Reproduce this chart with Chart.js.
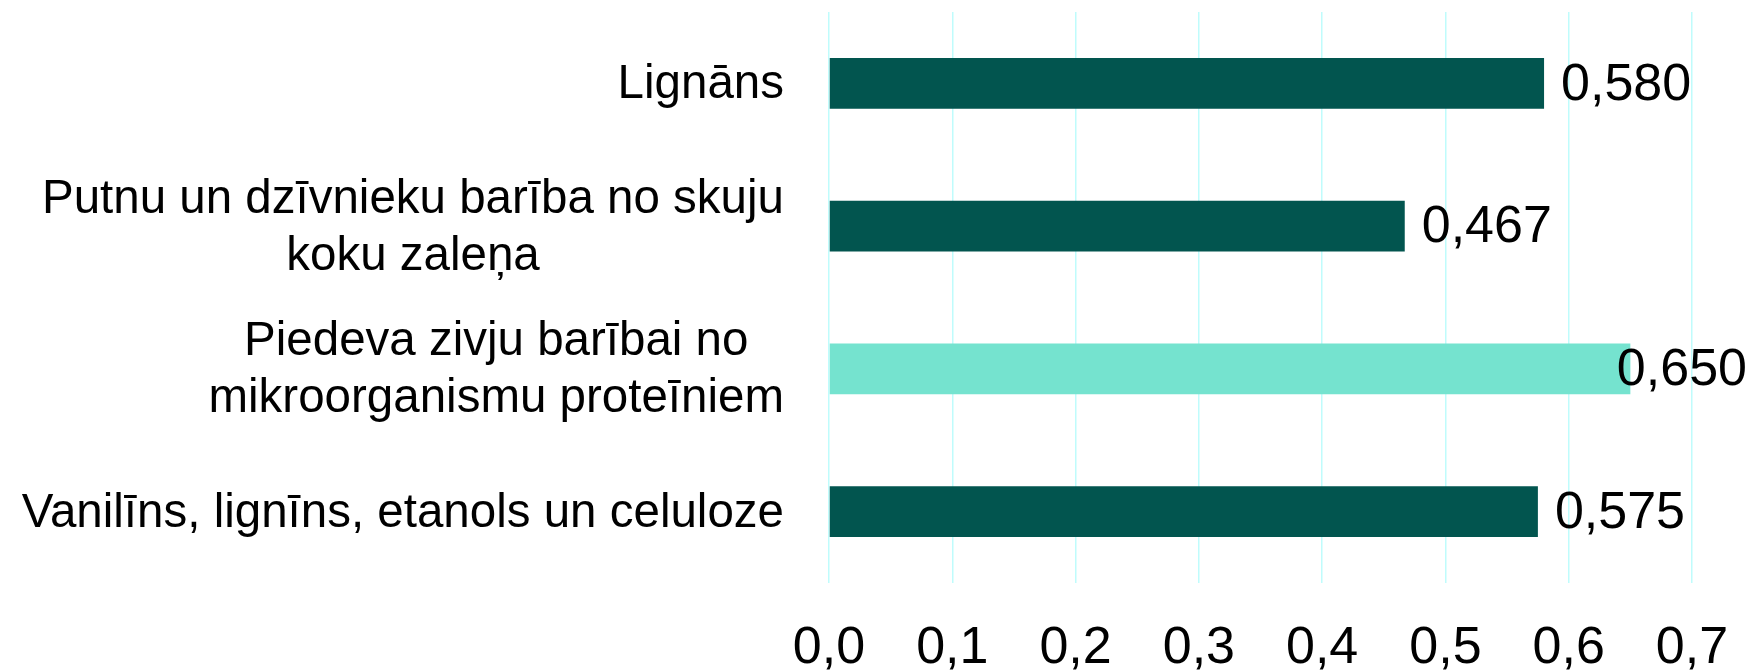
<!DOCTYPE html>
<html>
<head>
<meta charset="utf-8">
<script src="https://cdn.jsdelivr.net/npm/chart.js@4/dist/chart.umd.min.js"></script>
<style>
  html, body { margin: 0; padding: 0; background: #ffffff; }
  #wrap { width: 1754px; height: 671px; position: relative; }
</style>
</head>
<body>
<div id="wrap"><canvas id="c"></canvas></div>
<script>
// Data
const categories = [
  ["Lignāns"],
  ["Putnu un dzīvnieku barība no skuju", "koku zaleņa"],
  ["Piedeva zivju barībai no", "mikroorganismu proteīniem"],
  ["Vanilīns, lignīns, etanols un celuloze"]
];
const values = [0.580, 0.467, 0.650, 0.575];
const valueLabels = ["0,580", "0,467", "0,650", "0,575"];
const barColors = ["#02554F", "#02554F", "#75E3CF", "#02554F"];
const xMin = 0, xMax = 0.7, xStep = 0.1;

const FONT = "'Liberation Sans', Arial, Helvetica, sans-serif";
const LABEL_SIZE = 47.5;
const VALUE_SIZE = 52;

const categoryLabelsPlugin = {
  id: 'categoryLabels',
  afterDraw(chart) {
    const ctx = chart.ctx;
    const yScale = chart.scales.y;
    const rightEdge = chart.chartArea.left - 45;
    const lh = LABEL_SIZE * 1.2;
    ctx.save();
    ctx.font = LABEL_SIZE + "px " + FONT;
    ctx.fillStyle = "#000000";
    ctx.textAlign = "center";
    ctx.textBaseline = "middle";
    categories.forEach((lines, i) => {
      const yc = yScale.getPixelForValue(i) + 2;
      let maxW = 0;
      lines.forEach(l => { maxW = Math.max(maxW, ctx.measureText(l).width); });
      const cx = rightEdge - maxW / 2;
      lines.forEach((l, j) => {
        ctx.fillText(l, cx, yc + (j - (lines.length - 1) / 2) * lh);
      });
    });
    ctx.restore();
  }
};

const valueLabelsPlugin = {
  id: 'valueLabels',
  afterDatasetsDraw(chart) {
    const ctx = chart.ctx;
    const meta = chart.getDatasetMeta(0);
    ctx.save();
    ctx.font = VALUE_SIZE + "px " + FONT;
    ctx.fillStyle = "#000000";
    ctx.textAlign = "left";
    ctx.textBaseline = "middle";
    meta.data.forEach((bar, i) => {
      const w = ctx.measureText(valueLabels[i]).width;
      let x = bar.x + 17;
      const maxX = chart.width - 7 - w;
      if (x > maxX) x = maxX;
      ctx.fillText(valueLabels[i], x, bar.y + 2);
    });
    ctx.restore();
  }
};

new Chart(document.getElementById('c'), {
  type: 'bar',
  data: {
    labels: categories,
    datasets: [{
      data: values,
      backgroundColor: barColors,
      borderWidth: 0,
      barPercentage: 0.357,
      categoryPercentage: 1.0
    }]
  },
  options: {
    indexAxis: 'y',
    responsive: true,
    maintainAspectRatio: false,
    animation: false,
    layout: { padding: { top: 12, right: 62, left: 0, bottom: 0 } },
    plugins: {
      legend: { display: false },
      tooltip: { enabled: false }
    },
    scales: {
      x: {
        min: xMin,
        max: xMax,
        border: { display: false },
        grid: { color: "#BFFCFC", lineWidth: 1.5, drawTicks: false },
        ticks: {
          stepSize: xStep,
          padding: 34,
          color: "#000000",
          font: { family: FONT, size: 52 },
          callback: (v) => Number(v).toFixed(1).replace('.', ',')
        },
        afterFit: (s) => { s.height = 88; s.paddingRight = 0; s.paddingLeft = 0; }
      },
      y: {
        border: { display: false },
        grid: { display: false },
        ticks: { display: false },
        afterFit: (s) => { s.width = 829; }
      }
    }
  },
  plugins: [categoryLabelsPlugin, valueLabelsPlugin]
});
</script>
</body>
</html>
